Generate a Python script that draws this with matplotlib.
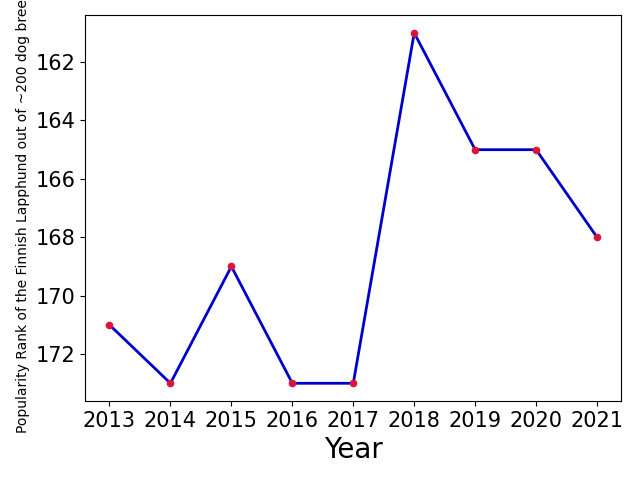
import matplotlib
matplotlib.use('Agg')
import matplotlib.pyplot as plt

years = [2013, 2014, 2015, 2016, 2017, 2018, 2019, 2020, 2021]
ranks = [171, 173, 169, 173, 173, 161, 165, 165, 168]

fig = plt.figure(figsize=(6.4, 4.8), dpi=100)
ax = fig.add_axes([0.133, 0.165, 0.838, 0.803])
# reference label is clipped at the top too, kept as is
ax.plot(years, ranks, color='mediumblue', linewidth=2, zorder=1)
ax.scatter(years, ranks, color='crimson', s=20, zorder=2)
ax.invert_yaxis()
ax.set_yticks([162, 164, 166, 168, 170, 172])
ax.set_xticks(years)
ax.tick_params(labelsize=15)
ax.set_xlabel('Year', fontsize=20)
ax.set_ylabel('Popularity Rank of the Finnish Lapphund out of ~200 dog breeds', fontsize=10)
fig.savefig('out.png')
